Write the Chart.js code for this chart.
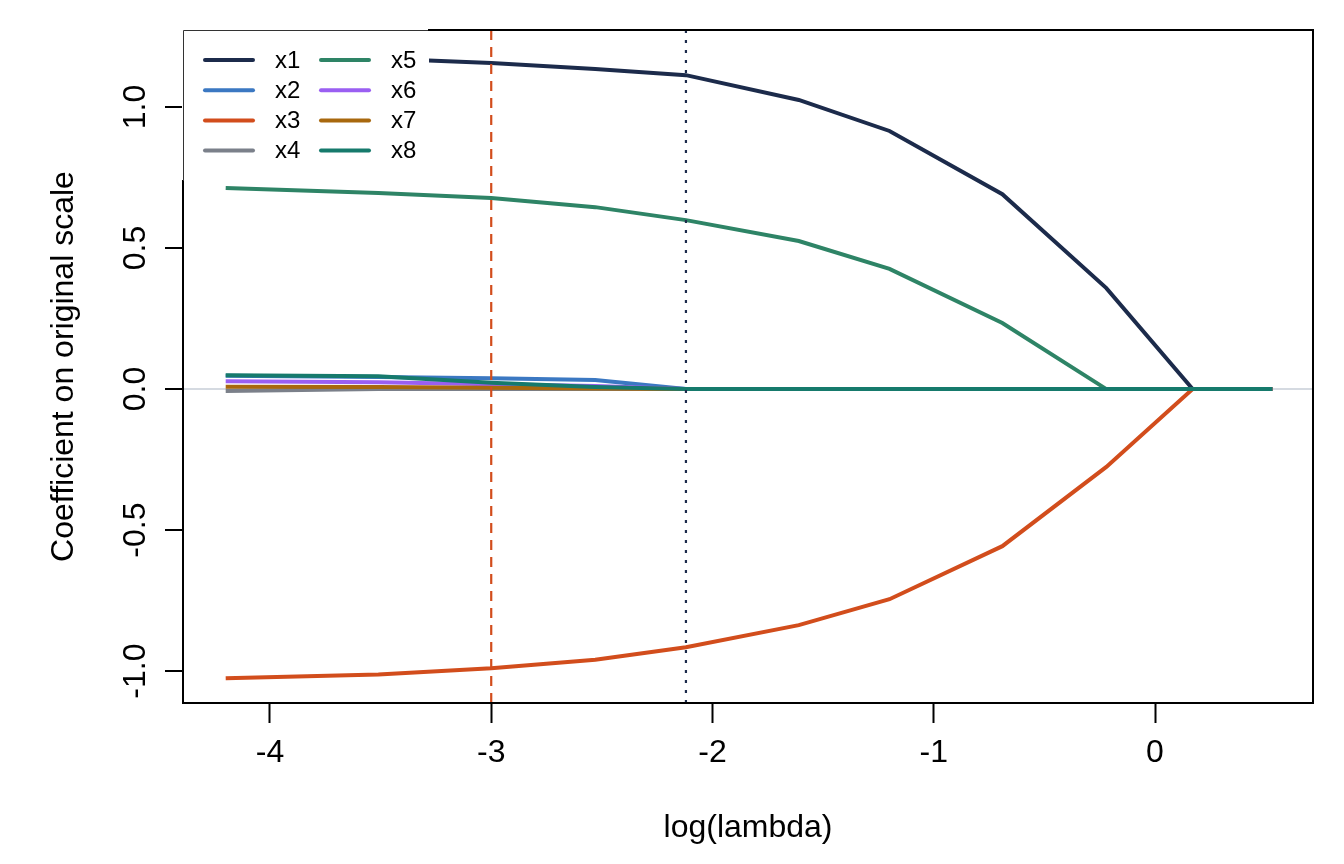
<!DOCTYPE html>
<html><head><meta charset="utf-8">
<script src="https://cdn.jsdelivr.net/npm/chart.js@4/dist/chart.umd.min.js"></script>
<style>html,body{margin:0;padding:0;background:#fff;overflow:hidden}canvas{display:block}</style>
</head><body>
<canvas id="c" width="1344" height="864"></canvas>
<script>
// ---- data ----
const logLambda = [-4.20, -3.51, -3.00, -2.53, -2.12, -1.61, -1.20, -0.69, -0.22, 0.17, 0.53];
const x1 = [1.183, 1.172, 1.156, 1.135, 1.113, 1.025, 0.915, 0.691, 0.358, 0, 0];
const x2 = [0.047, 0.043, 0.038, 0.032, 0, 0, 0, 0, 0, 0, 0];
const x3 = [-1.025, -1.012, -0.990, -0.960, -0.915, -0.837, -0.745, -0.557, -0.276, 0, 0];
const x4 = [-0.007, 0, 0, 0, 0, 0, 0, 0, 0, 0, 0];
const x5 = [0.713, 0.695, 0.677, 0.645, 0.599, 0.525, 0.426, 0.234, 0, 0, 0];
const x6 = [0.028, 0.024, 0.017, 0.011, 0, 0, 0, 0, 0, 0, 0];
const x7 = [0.008, 0.007, 0.005, 0.002, 0, 0, 0, 0, 0, 0, 0];
const x8 = [0.049, 0.045, 0.022, 0.007, 0, 0, 0, 0, 0, 0, 0];
const seriesNames = ['x1', 'x2', 'x3', 'x4', 'x5', 'x6', 'x7', 'x8'];
const seriesValues = [x1, x2, x3, x4, x5, x6, x7, x8];
const seriesColors = ['#1c2b4b', '#3b78c2', '#d24d1c', '#7b808a', '#2e8466', '#9a5ff2', '#a8680e', '#167a6c'];
const xTicks = [-4, -3, -2, -1, 0];
const yTicks = [-1.0, -0.5, 0.0, 0.5, 1.0];
const lambdaMinLog = -3.00;   // red dashed
const lambda1seLog = -2.12;   // dotted
const xRange = [-4.393, 0.714];
const yRange = [-1.113, 1.273];

// ---- style ----
const FONT = '"Liberation Sans", Arial, Helvetica, sans-serif';
Chart.defaults.font.family = FONT;
Chart.defaults.color = '#000';

const datasets = seriesValues.map((vals, i) => ({
  label: seriesNames[i],
  data: logLambda.map((x, j) => ({x: x, y: vals[j]})),
  borderColor: seriesColors[i],
  backgroundColor: seriesColors[i],
  borderWidth: 4,
  pointRadius: 0,
  showLine: true,
  tension: 0,
  order: 8 - i,
  isSeries: true
}));
datasets.push({
  label: 'lambda.min',
  data: [{x: lambdaMinLog, y: yRange[0]}, {x: lambdaMinLog, y: yRange[1]}],
  borderColor: '#d24d1c', borderWidth: 2.2, borderDash: [10, 7],
  pointRadius: 0, showLine: true, order: 0
});
datasets.push({
  label: 'lambda.1se',
  data: [{x: lambda1seLog, y: yRange[0]}, {x: lambda1seLog, y: yRange[1]}],
  borderColor: '#1c2b4b', borderWidth: 2.2, borderDash: [3, 7],
  pointRadius: 0, showLine: true, order: 0
});

const framePlugin = {
  id: 'frameLegend',
  afterDatasetsDraw(chart) {
    const {ctx, chartArea: a} = chart;
    ctx.save();
    ctx.strokeStyle = '#000';
    ctx.lineWidth = 2;
    ctx.strokeRect(a.left, a.top, a.right - a.left, a.bottom - a.top);
    // legend box
    const lx = a.left, ly = a.top, lw = 247, lh = 151;
    ctx.fillStyle = '#fff';
    ctx.fillRect(lx - 1, ly - 1, lw, lh);
    ctx.strokeStyle = '#333';
    ctx.lineWidth = 1;
    ctx.beginPath();
    ctx.moveTo(lx + 0.5, ly + lh); ctx.lineTo(lx + 0.5, ly + 0.5); ctx.lineTo(lx + lw + 2, ly + 0.5);
    ctx.stroke();
    ctx.strokeStyle = '#000'; ctx.lineWidth = 2;
    ctx.beginPath(); ctx.moveTo(lx + lw - 2, a.top); ctx.lineTo(lx + lw + 4, a.top); ctx.stroke();
    const series = chart.data.datasets.filter(d => d.isSeries);
    ctx.font = '24px ' + FONT;
    ctx.textBaseline = 'middle';
    ctx.textAlign = 'left';
    series.forEach((d, i) => {
      const col = Math.floor(i / 4), row = i % 4;
      const x0 = lx + 22 + col * 116;
      const y0 = ly + 30 + row * 30.2;
      ctx.strokeStyle = d.borderColor;
      ctx.lineWidth = 4;
      ctx.lineCap = 'round';
      ctx.beginPath(); ctx.moveTo(x0, y0); ctx.lineTo(x0 + 48, y0); ctx.stroke();
      ctx.fillStyle = '#000';
      ctx.fillText(d.label, x0 + 70, y0 + 1);
    });
    ctx.restore();
  }
};

new Chart(document.getElementById('c'), {
  type: 'scatter',
  data: {datasets},
  options: {
    responsive: false,
    animation: false,
    devicePixelRatio: 1,
    layout: {padding: {left: 0, top: 30, right: 31, bottom: 0}},
    plugins: {legend: {display: false}, tooltip: {enabled: false}},
    scales: {
      x: {
        type: 'linear', min: xRange[0], max: xRange[1],
        afterBuildTicks: s => { s.ticks = xTicks.map(v => ({value: v})); },
        afterFit: s => { s.height = 161; },
        ticks: {font: {size: 32}, color: '#000', padding: 11, callback: v => String(v)},
        grid: {drawOnChartArea: false, tickLength: 20, tickColor: '#000', tickWidth: 2},
        border: {display: false},
        title: {display: true, text: 'log(lambda)', font: {size: 32}, color: '#000', padding: {top: 0, bottom: 17}}
      },
      y: {
        type: 'linear', min: yRange[0], max: yRange[1],
        afterBuildTicks: s => { s.ticks = yTicks.map(v => ({value: v})); },
        afterFit: s => { s.width = 183; },
        ticks: {font: {size: 32}, color: '#000', padding: 1, minRotation: 90, maxRotation: 90,
                crossAlign: 'center', callback: v => v.toFixed(1)},
        grid: {drawOnChartArea: true, tickLength: 18, tickColor: '#000', tickWidth: 2, lineWidth: 2,
               color: c => (c.tick && c.tick.value === 0) ? '#d5dae1' : 'rgba(0,0,0,0)'},
        border: {display: false},
        title: {display: true, text: 'Coefficient on original scale', font: {size: 32}, color: '#000', padding: {top: 45, bottom: 0}}
      }
    }
  },
  plugins: [framePlugin]
});
</script>
</body></html>
